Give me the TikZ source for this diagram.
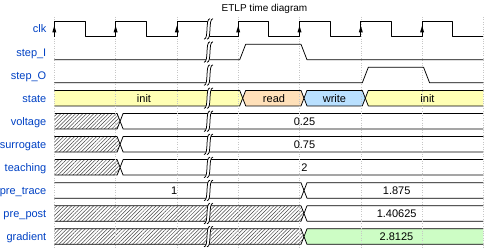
\documentclass[tikz,border=0pt]{standalone}
\usepackage{fontspec}
\setmainfont{Liberation Sans}
\usetikzlibrary{patterns.meta}
\definecolor{wyel}{HTML}{FFFFB4}
\definecolor{wora}{HTML}{FFE0B9}
\definecolor{wblu}{HTML}{B9E0FF}
\definecolor{wgrn}{HTML}{CDFDC5}
\definecolor{wlab}{HTML}{0041C4}
\newcommand\xt[1]{(54.3+30.65*(#1))}
\def\dA{1.5}\def\dM{4.5}\def\dB{7.5}\def\wH{15.5}\def\wHH{7.75}
% band from start (t=0) to transition #2, row top #3
\newcommand\bandS[3]{%
 \fill[#1] ({\xt{0}},#3) -- ({\xt{#2}+\dA},#3) -- ({\xt{#2}+\dM},{#3+\wHH}) -- ({\xt{#2}+\dA},{#3+\wH}) -- ({\xt{0}},{#3+\wH}) -- cycle;
 \draw[wline] ({\xt{0}},#3) -- ({\xt{#2}+\dA},#3) -- ({\xt{#2}+\dM},{#3+\wHH}) -- ({\xt{#2}+\dA},{#3+\wH}) -- ({\xt{0}},{#3+\wH});}
% band between transitions #2 and #3, row top #4
\newcommand\bandM[4]{%
 \filldraw[wline,fill=#1] ({\xt{#2}+\dM},{#4+\wHH}) -- ({\xt{#2}+\dB},#4) -- ({\xt{#3}+\dA},#4) -- ({\xt{#3}+\dM},{#4+\wHH}) -- ({\xt{#3}+\dA},{#4+\wH}) -- ({\xt{#2}+\dB},{#4+\wH}) -- cycle;}
% band from transition #2 to the end (t=14), row top #3
\newcommand\bandE[3]{%
 \fill[#1] ({\xt{#2}+\dM},{#3+\wHH}) -- ({\xt{#2}+\dB},#3) -- ({\xt{14}},#3) -- ({\xt{14}},{#3+\wH}) -- ({\xt{#2}+\dB},{#3+\wH}) -- cycle;
 \draw[wline] ({\xt{14}},#3) -- ({\xt{#2}+\dB},#3) -- ({\xt{#2}+\dM},{#3+\wHH}) -- ({\xt{#2}+\dB},{#3+\wH}) -- ({\xt{14}},{#3+\wH});}
% gap mark, row top #1
\newcommand\wgap[1]{%
 \fill[white] (204,{#1+18}) .. controls (209,{#1+18}) and (205,{#1-2.5}) .. (210,{#1-2.5}) -- (213,{#1-2.5}) .. controls (208,{#1-2.5}) and (212,{#1+18}) .. (207,{#1+18}) -- cycle;
 \draw[wline] (204,{#1+18}) .. controls (209,{#1+18}) and (205,{#1-2.5}) .. (210,{#1-2.5});
 \draw[wline] (207,{#1+18}) .. controls (212,{#1+18}) and (208,{#1-2.5}) .. (213,{#1-2.5});}
\begin{document}
\begin{tikzpicture}[x=1pt,y=-1pt,
  wline/.style={line width=0.75pt,draw=black,line join=round},
  lbl/.style={text=wlab,font=\fontsize{11}{13}\selectfont,anchor=base east,inner sep=0pt},
  val/.style={font=\fontsize{11}{13}\selectfont,anchor=base,inner sep=0pt},
  hatch/.style={pattern={Lines[angle=45,distance=2.6pt,line width=0.5pt]},pattern color=black!72},
  gridl/.style={draw=black!22,dash pattern=on 0.8pt off 1.6pt,line width=0.5pt}]
\useasboundingbox (0,0) rectangle (485,248);
% title
\node[font=\fontsize{10}{12}\selectfont,anchor=base,inner sep=0pt] (title) at (264.5,11.3) {ETLP time diagram};
% state
\bandS{wyel}{6}{90.41}
\bandM{wora}{6}{8}{90.41}
\bandM{wblu}{8}{10}{90.41}
\bandE{wyel}{10}{90.41}
% voltage, surrogate, teaching
\bandS{hatch}{2}{113.48}\bandE{white}{2}{113.48}
\bandS{hatch}{2}{136.55}\bandE{white}{2}{136.55}
\bandS{hatch}{2}{159.62}\bandE{white}{2}{159.62}
% pre_trace, pre_post, gradient
\bandS{white}{8}{182.69}\bandE{white}{8}{182.69}
\bandS{hatch}{8}{205.76}\bandE{white}{8}{205.76}
\bandS{hatch}{8}{228.83}\bandE{wgrn}{8}{228.83}
% grid
\foreach \k in {0,2,...,14} \draw[gridl] ({\xt{\k}},17) -- ({\xt{\k}},248);
% clk
\draw[wline] ({\xt{0}},36.7) \foreach \k in {0,2,...,12}{ -- ({\xt{\k}},21.2) -- ({\xt{\k+1}},21.2) -- ({\xt{\k+1}},36.7) -- ({\xt{\k+2}},36.7)};
\foreach \k in {0,2,...,12} \fill ({\xt{\k}},25.7) -- ({\xt{\k}-2},32.3) -- ({\xt{\k}+2},32.3) -- cycle;
% step_I
\draw[wline] ({\xt{0}},59.77) -- ({\xt{6}+\dA},59.77) -- ({\xt{6}+\dB},44.27) -- ({\xt{8}+\dA},44.27) -- ({\xt{8}+\dB},59.77) -- ({\xt{14}},59.77);
% step_O
\draw[wline] ({\xt{0}},82.84) -- ({\xt{10}+\dA},82.84) -- ({\xt{10}+\dB},67.34) -- ({\xt{12}+\dA},67.34) -- ({\xt{12}+\dB},82.84) -- ({\xt{14}},82.84);
% gaps
\foreach \T in {21.2,44.27,67.34,90.41,113.48,136.55,159.62,182.69,205.76,228.83} {\wgap{\T}}
% labels
\node[lbl] (lclk) at (46.5,32.95) {clk};
\node[lbl] (lstepi) at (46.5,56.02) {step\_I};
\node[lbl] (lstepo) at (46.5,79.09) {step\_O};
\node[lbl] (lstate) at (46.5,102.16) {state};
\node[lbl] (lvolt) at (46.5,125.23) {voltage};
\node[lbl] (lsurr) at (46.5,148.3) {surrogate};
\node[lbl] (lteach) at (46.5,171.37) {teaching};
\node[lbl] (lpret) at (46.5,194.44) {pre\_trace};
\node[lbl] (lprep) at (46.5,217.51) {pre\_post};
\node[lbl] (lgrad) at (46.5,240.58) {gradient};
% values
\node[val] (vinita) at (144,102.16) {init};
\node[val] (vread) at (274,102.16) {read};
\node[val] (vwrite) at (334.5,102.16) {write};
\node[val] (vinitb) at (427.5,102.16) {init};
\node[val] (vvolt) at (304.5,125.23) {0.25};
\node[val] (vsurr) at (304.5,148.3) {0.75};
\node[val] (vteach) at (304.5,171.37) {2};
\node[val] (vpreta) at (174.3,194.44) {1};
\node[val] (vpretb) at (396.7,194.44) {1.875};
\node[val] (vprep) at (396.7,217.51) {1.40625};
\node[val] (vgrad) at (396.5,240.58) {2.8125};
\end{tikzpicture}
\end{document}
